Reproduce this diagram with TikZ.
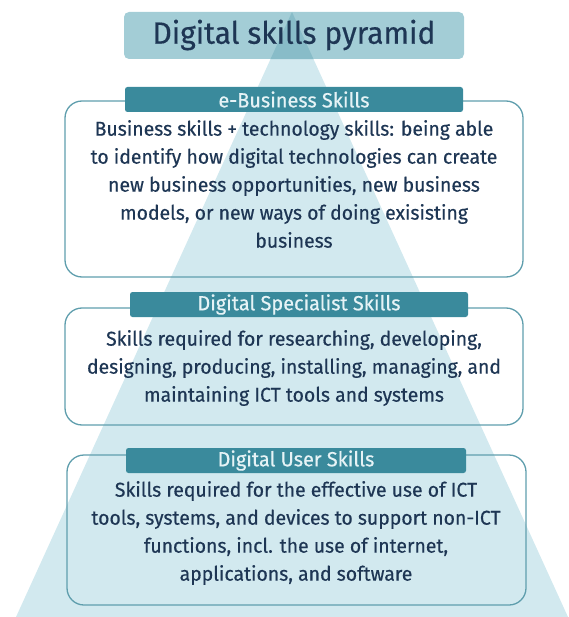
\documentclass[tikz,border=0pt]{standalone}
\usepackage{fontspec}
\setmainfont{Fira Sans}[FakeStretch=0.97, FakeBold=0.45]
\definecolor{pyr}{HTML}{D2E9EF}
\definecolor{pyrdark}{HTML}{88BCC8}
\definecolor{titlefill}{HTML}{A3CDD6}
\definecolor{barfill}{HTML}{3A8A9C}
\definecolor{boxline}{HTML}{5F9EAD}
\definecolor{ink}{HTML}{1E3654}
\definecolor{barink}{HTML}{E6F3F6}
\begin{document}
\begin{tikzpicture}[x=1pt,y=-1pt,
  titlebox/.style={fill=titlefill, rounded corners=5pt, minimum width=340pt, minimum height=47pt, inner sep=0pt},
  titletext/.style={text=ink, inner sep=0pt, font=\fontsize{30.8}{34}\selectfont},
  levelbox/.style={draw=boxline, line width=1.3pt, rounded corners=17pt, inner sep=0pt},
  levelbar/.style={fill=barfill, rounded corners=2.5pt, minimum width=338pt, minimum height=25pt, inner sep=0pt,
    text=barink, font=\fontsize{20.5}{22}\selectfont},
  leveltext/.style={text=ink, align=center, inner sep=0pt, font=\fontsize{20}{28}\selectfont}]
\useasboundingbox (0,0) rectangle (568,617);
% pyramid behind everything
\fill[pyr] (292,12) -- (568,617) -- (16,617) -- cycle;
% title
\node[titlebox] (title) at (294,35.5) {};
\begin{scope}
  \clip[rounded corners=5pt] (title.north west) rectangle (title.south east);
  \fill[pyrdark] (292,12) -- (568,617) -- (16,617) -- cycle;
\end{scope}
\node[titletext] (titletext) at (294,35) {Digital skills pyramid};
% level frames
\node[levelbox, minimum width=458pt, minimum height=176pt] (box1) at (294,189) {};
\node[levelbox, minimum width=458pt, minimum height=117pt] (box2) at (294,366.5) {};
\node[levelbox, minimum width=459pt, minimum height=150pt] (box3) at (296.5,530) {};
% level headings
\node[levelbar] (bar1) at (294,99.5) {e-Business Skills};
\node[levelbar] (bar2) at (299,304.5) {Digital Specialist Skills};
\node[levelbar, minimum width=340pt] (bar3) at (296,460.5) {Digital User Skills};
% level descriptions
\node[leveltext] (text1) at (294,184) {Business skills + technology skills: being able\\
to identify how digital technologies can create\\
new business opportunities, new business\\
models, or new ways of doing exisisting\\
business};
\node[leveltext] (text2) at (294,368) {Skills required for researching, developing,\\
designing, producing, installing, managing, and\\
maintaining ICT tools and systems};
\node[leveltext] (text3) at (296,533) {Skills required for the effective use of ICT\\
tools, systems, and devices to support non-ICT\\
functions, incl. the use of internet,\\
applications, and software};
\end{tikzpicture}
\end{document}
